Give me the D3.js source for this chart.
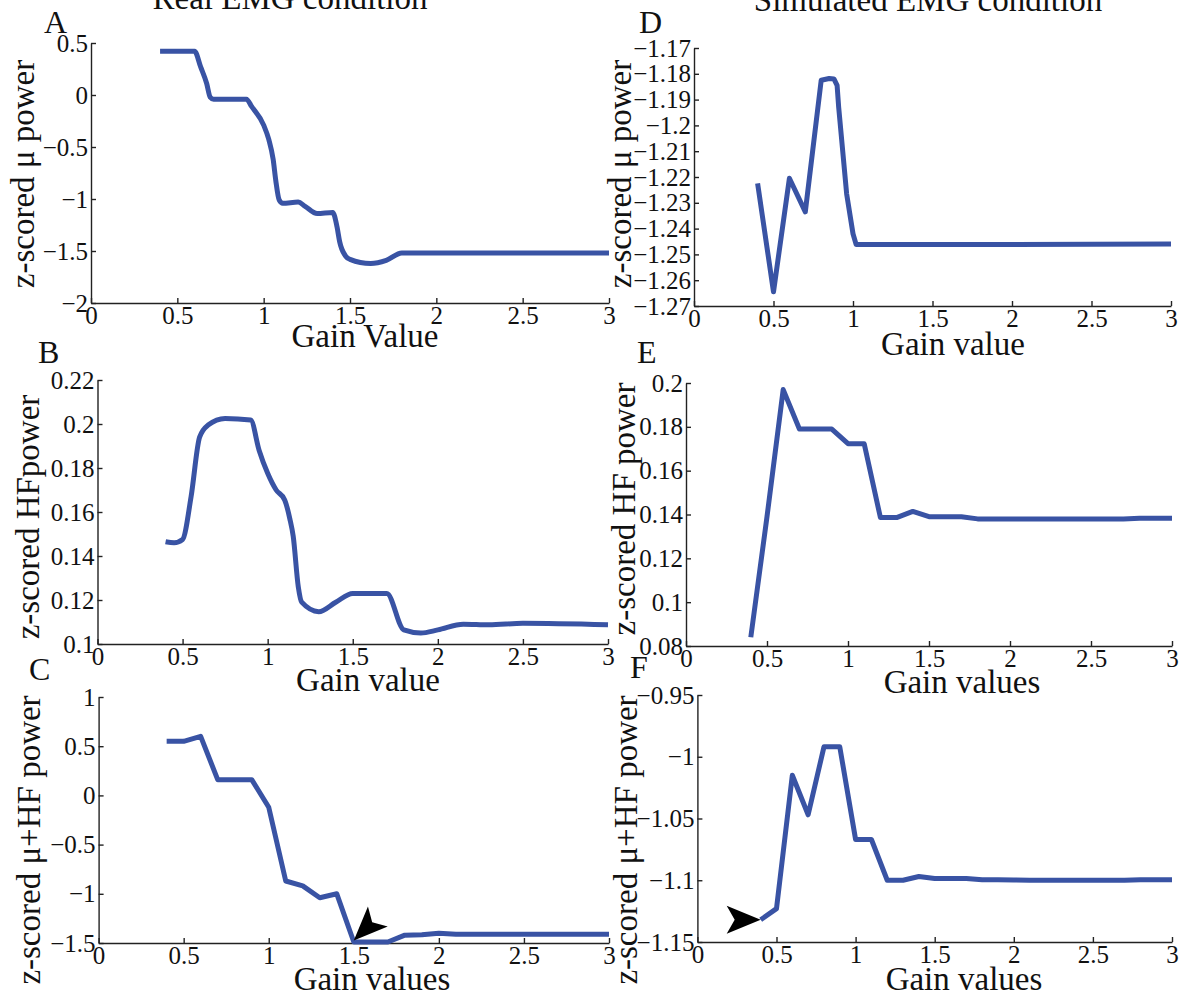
<!DOCTYPE html>
<html>
<head>
<meta charset="utf-8">
<script src="https://d3js.org/d3.v7.min.js"></script>
<style>
  body { margin: 0; background: #fff; }
  svg { display: block; font-family: "Liberation Serif", "Times New Roman", serif; }
  .tick text { font-family: "Liberation Serif", "Times New Roman", serif; font-size: 25px; fill: #111; }
  .domain, .tick line { stroke: #222; stroke-width: 1.4px; }
  .lbl { font-size: 33px; fill: #111; }
  .letter { font-size: 32px; fill: #111; }
  .trace { fill: none; stroke: #3953a4; stroke-width: 5px; stroke-linejoin: round; }
  .arrow { fill: #000; }
</style>
</head>
<body>
<script>
// shared x ticks
var xTicks = [0, 0.5, 1, 1.5, 2, 2.5, 3];

// A - real EMG, mu power
var gainA = [0.4,0.5,0.6,0.635,0.67,0.69,0.71,0.8,0.9,0.93,1.0,1.03,1.055,1.07,1.09,1.11,1.2,1.24,1.31,1.4,1.425,1.44,1.475,1.5,1.62,1.71,1.8,2,2.5,3];
var valA  = [0.42,0.42,0.42,0.27,0.11,-0.02,-0.04,-0.04,-0.04,-0.11,-0.29,-0.43,-0.62,-0.82,-1.01,-1.04,-1.03,-1.07,-1.14,-1.13,-1.27,-1.41,-1.55,-1.58,-1.62,-1.59,-1.52,-1.52,-1.52,-1.52];
var ticksA = [0.5, 0, -0.5, -1, -1.5, -2];

// B - real EMG, HF power
var gainB = [0.4,0.45,0.5,0.55,0.6,0.65,0.75,0.9,0.95,1.0,1.05,1.1,1.13,1.15,1.18,1.2,1.3,1.4,1.5,1.7,1.8,1.9,2.0,2.15,2.3,2.5,3.0];
var valB  = [0.1465,0.146,0.1475,0.167,0.194,0.1995,0.2025,0.2018,0.188,0.1776,0.170,0.1655,0.157,0.149,0.126,0.119,0.1147,0.119,0.123,0.123,0.1064,0.105,0.1064,0.109,0.1087,0.1094,0.1087];
var ticksB = [0.22, 0.2, 0.18, 0.16, 0.14, 0.12, 0.1];

// C - real EMG, mu+HF power
var gainC = [0.4,0.5,0.6,0.7,0.8,0.9,1.0,1.1,1.2,1.3,1.4,1.5,1.6,1.7,1.8,1.9,2.0,2.1,2.2,2.3,2.4,2.5,2.6,2.7,2.8,2.9,3.0];
var valC  = [0.55,0.55,0.6,0.16,0.16,0.16,-0.12,-0.87,-0.92,-1.04,-1.0,-1.49,-1.49,-1.49,-1.42,-1.415,-1.40,-1.41,-1.41,-1.41,-1.41,-1.41,-1.41,-1.41,-1.41,-1.41,-1.41];
var ticksC = [1, 0.5, 0, -0.5, -1, -1.5];

// D - simulated EMG, mu power
var gainD = [0.4,0.5,0.6,0.7,0.8,0.85,0.88,0.9,0.91,0.96,1.0,1.02,1.5,2.0,2.5,3.0];
var valD  = [-1.2225,-1.2645,-1.2205,-1.2335,-1.1825,-1.1818,-1.182,-1.1845,-1.193,-1.2265,-1.242,-1.2462,-1.2462,-1.2462,-1.2461,-1.246];
var ticksD = [-1.17,-1.18,-1.19,-1.2,-1.21,-1.22,-1.23,-1.24,-1.25,-1.26,-1.27];

// E - simulated EMG, HF power
var gainE = [0.4,0.5,0.6,0.7,0.8,0.9,1.0,1.1,1.2,1.3,1.4,1.5,1.6,1.7,1.8,1.9,2.0,2.1,2.2,2.3,2.4,2.5,2.6,2.7,2.8,2.9,3.0];
var valE  = [0.084,0.139,0.197,0.179,0.179,0.179,0.1723,0.1723,0.1386,0.1386,0.1414,0.139,0.139,0.139,0.138,0.138,0.138,0.1379,0.1379,0.1379,0.1379,0.1379,0.1379,0.1379,0.1383,0.1383,0.1383];
var ticksE = [0.2, 0.18, 0.16, 0.14, 0.12, 0.1, 0.08];

// F - simulated EMG, mu+HF power
var gainF = [0.4,0.5,0.6,0.7,0.8,0.9,1.0,1.1,1.2,1.3,1.4,1.5,1.6,1.7,1.8,1.9,2.0,2.1,2.2,2.3,2.4,2.5,2.6,2.7,2.8,2.9,3.0];
var valF  = [-1.132,-1.123,-1.015,-1.047,-0.992,-0.992,-1.067,-1.067,-1.1,-1.1,-1.097,-1.0985,-1.0985,-1.0985,-1.0995,-1.0995,-1.0998,-1.1,-1.1,-1.1,-1.1,-1.1,-1.1,-1.1,-1.0995,-1.0995,-1.0995];
var ticksF = [-0.95, -1, -1.05, -1.1, -1.15];

// arrowheads marking the chosen gain
var arrowPanel = ["C", "F"];
var arrowGain  = [1.5, 0.4];
var arrowVal   = [-1.475, -1.132];
var arrowDir   = [135, 0];

var titles = ["Real EMG condition", "Simulated EMG condition"];

// layout table for the six panels
var panels = [
  {id:"A", gain:gainA, val:valA, ticks:ticksA, curve:d3.curveMonotoneX, x0:91, x1:609, yTop:43, yBot:303,
   xlab:"Gain Value", xlx:365, xly:347, ylab:"z-scored \u03bc power", ylx:34, yly:174, lx:44, ly:33},
  {id:"B", gain:gainB, val:valB, ticks:ticksB, curve:d3.curveMonotoneX, x0:97.5, x1:608, yTop:380, yBot:644,
   xlab:"Gain value", xlx:368, xly:691, ylab:"z-scored HFpower", ylx:39, yly:517, lx:38, ly:363},
  {id:"C", gain:gainC, val:valC, ticks:ticksC, curve:d3.curveLinear, x0:98.6, x1:609, yTop:697, yBot:943,
   xlab:"Gain values", xlx:372, xly:990, ylab:"z-scored \u03bc+HF power", ylx:40, yly:840, lx:29, ly:680},
  {id:"D", gain:gainD, val:valD, ticks:ticksD, curve:d3.curveLinear, x0:694, x1:1171, yTop:48, yBot:306,
   xlab:"Gain value", xlx:953, xly:355, ylab:"z-scored \u03bc power", ylx:631, yly:174, lx:639, ly:33},
  {id:"E", gain:gainE, val:valE, ticks:ticksE, curve:d3.curveLinear, x0:686, x1:1172, yTop:383, yBot:646,
   xlab:"Gain values", xlx:962, xly:693, ylab:"z-scored HF power", ylx:635, yly:509, lx:637, ly:363},
  {id:"F", gain:gainF, val:valF, ticks:ticksF, curve:d3.curveLinear, x0:697.4, x1:1172, yTop:695, yBot:942,
   xlab:"Gain values", xlx:964, xly:990, ylab:"z-scored \u03bc+HF power", ylx:637, yly:840, lx:630, ly:678}
];

var width = 1181, height = 999;
var fmt = d3.format("~g");
var serif = "Liberation Serif, Times New Roman, serif";

var svg = d3.select("body").append("svg")
    .attr("width", width)
    .attr("height", height);

// column titles (cut off at the top like the original)
svg.append("text").attr("class", "lbl").attr("x", 290).attr("y", 9)
    .attr("text-anchor", "middle").text(titles[0]);
svg.append("text").attr("class", "lbl").attr("x", 928).attr("y", 11)
    .attr("text-anchor", "middle").text(titles[1]);

var scales = {};

panels.forEach(function(p) {
  var x = d3.scaleLinear().domain([0, 3]).range([p.x0, p.x1]);
  var y = d3.scaleLinear().domain(d3.extent(p.ticks)).range([p.yBot, p.yTop]);
  scales[p.id] = {x: x, y: y};

  var g = svg.append("g");

  g.append("g")
      .attr("transform", "translate(0," + p.yBot + ")")
      .call(d3.axisBottom(x).tickValues(xTicks).tickSize(-5).tickSizeOuter(0).tickPadding(3).tickFormat(fmt))
      .attr("font-family", serif).attr("font-size", null);

  g.append("g")
      .attr("transform", "translate(" + p.x0 + ",0)")
      .call(d3.axisLeft(y).tickValues(p.ticks).tickSize(-5).tickSizeOuter(0).tickPadding(3).tickFormat(fmt))
      .attr("font-family", serif).attr("font-size", null);

  var line = d3.line()
      .x(function(d) { return x(d[0]); })
      .y(function(d) { return y(d[1]); })
      .curve(p.curve);

  g.append("path")
      .datum(d3.zip(p.gain, p.val))
      .attr("class", "trace")
      .attr("d", line);

  // axis labels
  g.append("text").attr("class", "lbl")
      .attr("x", p.xlx).attr("y", p.xly)
      .attr("text-anchor", "middle")
      .text(p.xlab);

  g.append("text").attr("class", "lbl")
      .attr("transform", "translate(" + p.ylx + "," + p.yly + ") rotate(-90)")
      .attr("text-anchor", "middle")
      .text(p.ylab);

  // panel letter
  g.append("text").attr("class", "letter")
      .attr("x", p.lx).attr("y", p.ly)
      .text(p.id);
});

// arrowheads, tip placed on the data point
var head = [[0, 0], [-34, -14], [-26, 0], [-34, 14]];
arrowPanel.forEach(function(id, i) {
  var s = scales[id];
  svg.append("path")
      .attr("class", "arrow")
      .attr("d", "M" + head.join("L") + "Z")
      .attr("transform", "translate(" + s.x(arrowGain[i]) + "," + s.y(arrowVal[i]) + ") rotate(" + arrowDir[i] + ")");
});
</script>
</body>
</html>
